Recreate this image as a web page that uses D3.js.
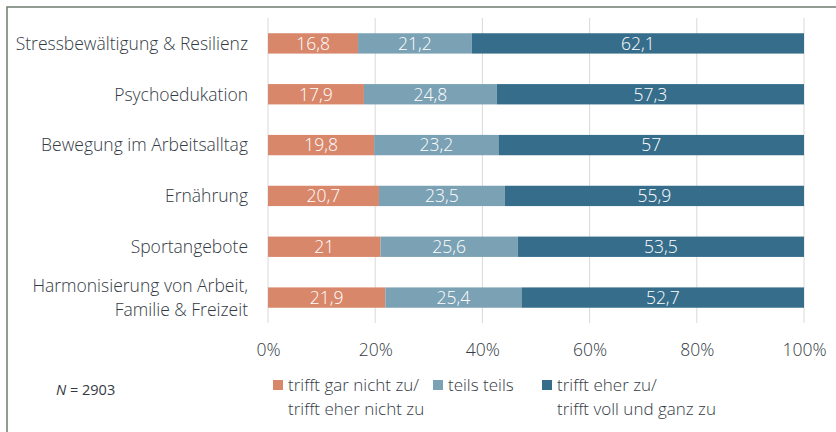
<!DOCTYPE html>
<html>
<head>
<meta charset="utf-8">
<script src="https://cdn.jsdelivr.net/npm/d3@7"></script>
<style>
  body { margin: 0; background: #fff; }
  svg text { font-family: "Open Sans", sans-serif; font-weight: 300; }
</style>
</head>
<body>
<div id="chart"></div>
<script>
// Data
const categories = [
    ["Stressbewältigung & Resilienz"],
    ["Psychoedukation"],
    ["Bewegung im Arbeitsalltag"],
    ["Ernährung"],
    ["Sportangebote"],
    ["Harmonisierung von Arbeit,", "Familie & Freizeit"]
];
const lowValues = [16.8, 17.9, 19.8, 20.7, 21, 21.9];
const midValues = [21.2, 24.8, 23.2, 23.5, 25.6, 25.4];
const highValues = [62.1, 57.3, 57, 55.9, 53.5, 52.7];
const seriesNames = [
    ["trifft gar nicht zu/", "trifft eher nicht zu"],
    ["teils teils"],
    ["trifft eher zu/", "trifft voll und ganz zu"]
];
const colors = ["#d8876b", "#7ba1b4", "#366d8b"];
const xTicks = [0, 20, 40, 60, 80, 100];

const width = 836;
const height = 432;
const margin = { top: 18, right: 32, bottom: 109, left: 268 };
const fontSize = 17.5;
const textColor = "#333a44";

const svg = d3.select("#chart")
    .append("svg")
    .attr("width", width)
    .attr("height", height);

// Frame around the chart
svg.append("rect")
    .attr("x", 7)
    .attr("y", 7)
    .attr("width", width + 10)
    .attr("height", height + 10)
    .attr("fill", "none")
    .attr("stroke", "#6f7c70")
    .attr("stroke-width", 1.5);

const x = d3.scaleLinear()
    .domain([0, 100])
    .range([margin.left, width - margin.right]);

const y = d3.scaleBand()
    .domain(d3.range(categories.length))
    .range([margin.top, height - margin.bottom])
    .paddingInner(0.6)
    .paddingOuter(0.3);

// Grid lines
svg.append("g")
    .selectAll("line")
    .data(xTicks)
    .join("line")
    .attr("x1", d => x(d))
    .attr("x2", d => x(d))
    .attr("y1", margin.top)
    .attr("y2", height - margin.bottom)
    .attr("stroke", "#d9d9d9")
    .attr("stroke-width", 1);

// x-axis labels
const xAxis = d3.axisBottom(x)
    .tickValues(xTicks)
    .tickFormat(d => d + "%")
    .tickSize(0)
    .tickPadding(0);

svg.append("g")
    .attr("transform", `translate(0, ${height - margin.bottom + 21})`)
    .call(xAxis)
    .call(g => g.select(".domain").remove())
    .call(g => g.selectAll("text")
        .attr("font-size", fontSize)
        .attr("fill", textColor)
        .style("font-family", "'Open Sans', sans-serif"));

// Stack data
const rows = categories.map((c, i) => ({ i, v: [lowValues[i], midValues[i], highValues[i]] }));
const segments = [];
rows.forEach(r => {
    let acc = 0;
    r.v.forEach((v, k) => {
        segments.push({ i: r.i, k, x0: acc, x1: acc + v, v });
        acc += v;
    });
});

svg.append("g")
    .selectAll("rect")
    .data(segments)
    .join("rect")
    .attr("x", d => x(d.x0))
    .attr("y", d => y(d.i))
    .attr("width", d => x(Math.min(d.x1, 100)) - x(d.x0))
    .attr("height", y.bandwidth())
    .attr("fill", d => colors[d.k]);

// Value labels inside bars
svg.append("g")
    .selectAll("text")
    .data(segments)
    .join("text")
    .attr("x", d => (x(d.x0) + x(Math.min(d.x1, 100))) / 2)
    .attr("y", d => y(d.i) + y.bandwidth() / 2)
    .attr("dy", "0.36em")
    .attr("text-anchor", "middle")
    .attr("font-size", fontSize)
    .attr("fill", "#ffffff")
    .text(d => String(d.v).replace(".", ","));

// Category labels
const catLabels = svg.append("g")
    .selectAll("text")
    .data(categories)
    .join("text")
    .attr("text-anchor", "end")
    .attr("font-size", fontSize)
    .attr("fill", textColor)
    .attr("x", margin.left - 20)
    .attr("y", (d, i) => y(i) + y.bandwidth() / 2 - (d.length - 1) * 12);

catLabels.selectAll("tspan")
    .data(d => d)
    .join("tspan")
    .attr("x", margin.left - 20)
    .attr("dy", (d, j) => j === 0 ? "0.36em" : "24px")
    .text(d => d);

// N label
svg.append("text")
    .attr("x", 56)
    .attr("y", 395)
    .attr("font-size", 14.5)
    .attr("fill", textColor)
    .style("font-weight", 400)
    .call(t => t.append("tspan").attr("font-style", "italic").text("N"))
    .call(t => t.append("tspan").text(" = 2903"));

// Legend
const legendX = [273, 433, 542];
const legend = svg.append("g")
    .selectAll("g")
    .data(seriesNames)
    .join("g")
    .attr("transform", (d, i) => `translate(${legendX[i]}, 380)`);

legend.append("rect")
    .attr("width", 10)
    .attr("height", 10)
    .attr("fill", (d, i) => colors[i]);

legend.append("text")
    .attr("font-size", 17)
    .attr("fill", textColor)
    .selectAll("tspan")
    .data(d => d)
    .join("tspan")
    .attr("x", 15)
    .attr("y", (d, j) => 11 + j * 24)
    .text(d => d);
</script>
</body>
</html>
